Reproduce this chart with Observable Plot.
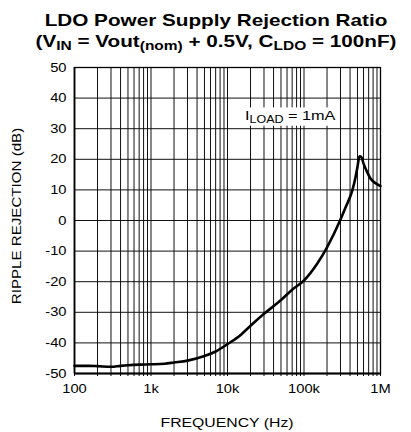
<!DOCTYPE html>
<html>
<head>
<meta charset="utf-8">
<script src="https://cdn.jsdelivr.net/npm/d3@7"></script>
<script src="https://cdn.jsdelivr.net/npm/@observablehq/plot@0.6"></script>
<style>
  html, body { margin: 0; padding: 0; background: #fff; }
  #wrap { width: 411px; height: 432px; position: relative; overflow: hidden; font-family: "Liberation Sans", Arial, sans-serif; }
  #title { height: 55px; box-sizing: border-box; padding-top: 10px; padding-left: 21px;
           font-weight: bold; font-size: 16.7px; line-height: 21px; color: #000; }
  #title .ln { text-align: center; white-space: nowrap; transform: scaleX(1.24); transform-origin: 50% 50%; height: 21px; }
  #title sub { font-size: 12.5px; line-height: 0; vertical-align: -3px; }
  svg { display: block; }
</style>
</head>
<body>
<div id="wrap">
  <div id="title">
    <div class="ln">LDO Power Supply Rejection Ratio</div>
    <div class="ln">(V<sub>IN</sub> = Vout<sub>(nom)</sub> + 0.5V, C<sub>LDO</sub> = 100nF)</div>
  </div>
  <div id="chart"></div>
</div>
<script>
// Data
const freq = [100, 150, 200, 300, 400, 500, 700, 1000, 1500, 2000, 3000, 5000, 7000, 10000, 15000, 20000, 30000, 50000, 70000, 100000, 150000, 200000, 300000, 350000, 430000, 470000, 500000, 531000, 560000, 600000, 670000, 740000, 850000, 1000000];
const rejection = [-47.5, -47.5, -47.6, -47.8, -47.5, -47.3, -47.1, -47.0, -46.8, -46.4, -45.8, -44.3, -42.8, -40.4, -37.3, -34.4, -30.5, -26.0, -22.6, -19.6, -14.0, -8.8, 0.3, 4.3, 10.0, 14.0, 17.5, 21.0, 20.8, 18.6, 15.8, 13.7, 12.3, 11.2];
const xTickValues = [100, 1000, 10000, 100000, 1000000];
const xTickLabels = ["100", "1k", "10k", "100k", "1M"];
const yTickValues = [-50, -40, -30, -20, -10, 0, 10, 20, 30, 40, 50];
const decades = [100, 1000, 10000, 100000];
const multipliers = [1, 2, 3, 4, 5, 6, 7, 8, 9];
const xTitle = "FREQUENCY (Hz)";
const yTitle = "RIPPLE REJECTION (dB)";
const loadLabel = {pre: "I", sub: "LOAD", post: " = 1mA", f: 17200, v: 32.7};

const minorTicks = decades.flatMap(d => multipliers.map(m => d * m)).concat([1000000]);
const rows = freq.map((f, i) => ({f, v: rejection[i]}));
const FONT = "'Liberation Sans', Arial, sans-serif";

const W = 411, H = 377, mT = 12, mB = 59, mL = 74, mR = 31;

const plot = Plot.plot({
  width: W,
  height: H,
  marginTop: mT,
  marginBottom: mB,
  marginLeft: mL,
  marginRight: mR,
  style: {fontFamily: FONT, fontSize: "12.8px", color: "#000", background: "#fff"},
  x: {
    type: "log",
    domain: [100, 1000000],
    ticks: minorTicks,
    tickSize: 3,
    tickPadding: 7,
    tickFormat: d => { const i = xTickValues.indexOf(d); return i >= 0 ? xTickLabels[i] : ""; },
    label: null
  },
  y: {
    domain: [-50, 50],
    ticks: yTickValues,
    tickSize: 0,
    tickPadding: 8,
    tickFormat: d => String(d),
    label: null
  },
  marks: [
    Plot.ruleX(minorTicks, {stroke: "#111", strokeWidth: 1}),
    Plot.ruleY(yTickValues, {stroke: "#111", strokeWidth: 1}),
    Plot.frame({stroke: "#000", strokeWidth: 1.3}),
    Plot.ruleY([-50], {stroke: "#000", strokeWidth: 2}),
    Plot.ruleX([100], {stroke: "#000", strokeWidth: 1.7}),
    Plot.line(rows, {x: "f", y: "v", stroke: "#000", strokeWidth: 2.6, curve: "monotone-x", strokeLinejoin: "round"})
  ]
});
document.getElementById("chart").appendChild(plot);

const svg = d3.select(plot);

// Widen the tick labels horizontally to match the reference's proportions
svg.selectAll("text").each(function() {
  const el = d3.select(this);
  const tr = el.attr("transform");
  if (tr) el.attr("transform", tr + " scale(1.15,1)");
  else {
    const x = +el.attr("x") || 0, y = +el.attr("y") || 0;
    el.attr("transform", `translate(${x},${y}) scale(1.15,1) translate(${-x},${-y})`);
  }
});

// Axis titles
const cx = (mL + (W - mR)) / 2;
svg.append("text")
  .attr("text-anchor", "middle")
  .attr("font-family", FONT).attr("font-size", 13.5).attr("fill", "#000")
  .attr("transform", `translate(${cx},${371.5}) scale(1.17,1)`)
  .text(xTitle);
svg.append("text")
  .attr("text-anchor", "middle")
  .attr("font-family", FONT).attr("font-size", 13.5).attr("fill", "#000")
  .attr("transform", `translate(${21},${161}) rotate(-90) scale(1.12,1)`)
  .text(yTitle);

// Annotation "I_LOAD = 1mA" with white background, placed via the plot's scales
const sx = plot.scale("x"), sy = plot.scale("y");
const ax = sx.apply(loadLabel.f), ay = sy.apply(loadLabel.v);
const g = svg.append("g").attr("transform", `translate(${ax},${ay}) scale(1.25,1)`);
const bg = g.append("rect").attr("fill", "#fff");
const t = g.append("text")
  .attr("x", 0).attr("y", 0)
  .attr("text-anchor", "start")
  .attr("font-family", FONT)
  .attr("font-size", 13)
  .attr("fill", "#000");
t.append("tspan").text(loadLabel.pre);
t.append("tspan").attr("font-size", 10).attr("dy", 3).text(loadLabel.sub);
t.append("tspan").attr("dy", -3).text(loadLabel.post);
const bb = t.node().getBBox();
bg.attr("x", bb.x - 2).attr("y", bb.y - 1).attr("width", bb.width + 4).attr("height", bb.height + 2);
</script>
</body>
</html>
